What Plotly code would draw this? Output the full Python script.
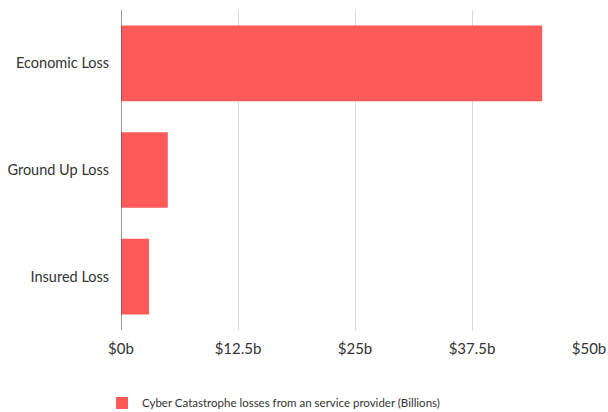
import plotly.graph_objects as go

categories = ["Economic Loss", "Ground Up Loss", "Insured Loss"]
values = [45.0, 5.0, 3.0]
tick_vals = [0, 12.5, 25, 37.5, 50]
tick_text = ["$0b", "$12.5b", "$25b", "$37.5b", "$50b"]
series_name = "Cyber Catastrophe losses from an service provider (Billions)"

fig = go.Figure()
fig.add_trace(go.Bar(
    y=categories, x=values, orientation="h", name=series_name,
    marker=dict(color="#FF5A5A", line=dict(width=0)), width=0.71,
    showlegend=True,
))
fig.update_layout(
    width=608, height=412,
    margin=dict(l=121, r=19, t=10, b=82, autoexpand=False),
    paper_bgcolor="white", plot_bgcolor="white",
    font=dict(family="Lato, sans-serif", color="#333333"),
    showlegend=True,
    legend=dict(orientation="h", x=102/608, xref="container", xanchor="left",
                y=0.022, yref="container", yanchor="middle",
                font=dict(size=11.5, color="#333333"), bgcolor="rgba(0,0,0,0)"),
    xaxis=dict(range=[0, 50], tickvals=tick_vals, ticktext=tick_text,
               showgrid=True, gridcolor="#d9d9d9", gridwidth=1,
               zeroline=False, showline=False, automargin=False,
               ticks="outside", ticklen=5, tickcolor="rgba(0,0,0,0)",
               tickfont=dict(size=15, color="#333333")),
    yaxis=dict(autorange="reversed", showgrid=False, zeroline=False,
               showline=False, automargin=False,
               ticks="outside", ticklen=8, tickcolor="rgba(0,0,0,0)",
               tickfont=dict(size=14.5, color="#333333")),
    shapes=[dict(type="line", xref="x", yref="paper", x0=0, x1=0, y0=0, y1=1,
                 line=dict(color="#555555", width=1.2))],
)
fig.write_html("out.html")
